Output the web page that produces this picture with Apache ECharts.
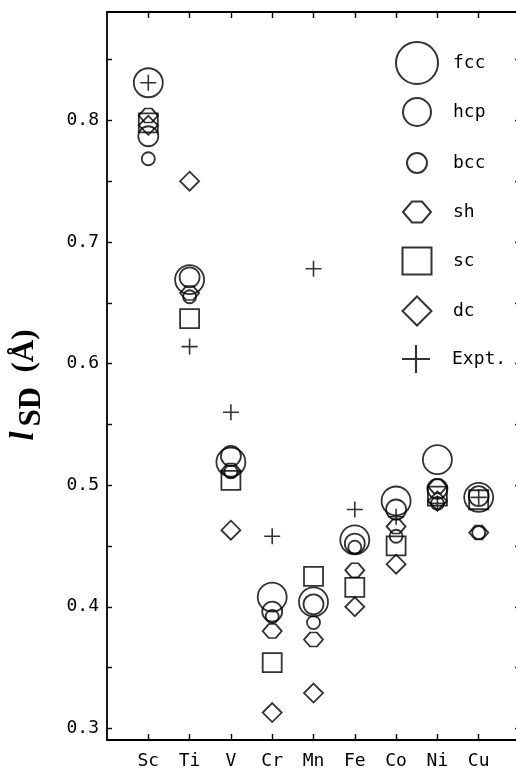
<!DOCTYPE html>
<html>
<head>
<meta charset="utf-8">
<script src="https://cdn.jsdelivr.net/npm/echarts@6/dist/echarts.min.js"></script>
<style>html,body{margin:0;padding:0;background:#fff}#c{width:516px;height:780px}</style>
</head>
<body>
<div id="c"></div>
<script>
// ---- data ----
const elements = ['Sc','Ti','V','Cr','Mn','Fe','Co','Ni','Cu'];
const fcc  = [0.831, 0.669, 0.519, 0.408, 0.404, 0.455, 0.487, 0.521, 0.490];
const hcp  = [0.787, 0.671, 0.524, 0.396, 0.402, 0.452, 0.480, 0.497, 0.491];
const bcc  = [0.7685,0.655, 0.511, 0.392, 0.387, 0.449, 0.458, 0.485, 0.461];
const sh   = [0.804, 0.658, 0.512, 0.380, 0.373, 0.430, 0.466, 0.499, 0.461];
const sc   = [0.798, 0.637, 0.504, 0.354, 0.425, 0.416, 0.450, 0.491, 0.488];
const dc   = [0.796, 0.750, 0.463, 0.313, 0.329, 0.400, 0.435, 0.487, null];
const expt = [0.831, 0.614, 0.560, 0.458, 0.678, 0.480, 0.474, 0.485, 0.490];
const yTickValues  = [0.30,0.35,0.40,0.45,0.50,0.55,0.60,0.65,0.70,0.75,0.80,0.85];
const yLabelValues = [0.3,0.4,0.5,0.6,0.7,0.8];

// ---- helpers ----
const xIdx = elements.map((e,i)=>i+1);
function pts(arr){ const r=[]; arr.forEach((v,i)=>{ if(v!=null) r.push([i+1,v]); }); return r; }
const HEX = 'path://M0,10.5L9,0L19,0L28,10.5L19,21L9,21Z';
const PLUS = 'path://M7.2,0H8.8V16H7.2Z M0,7.2H16V8.8H0Z';
const PLUS_LEG = 'path://M7.4,0H8.6V16H7.4Z M0,7.4H16V8.6H0Z';
const mono = 'DejaVu Sans Mono';
const hollow = {color:'rgba(0,0,0,0)', borderColor:'#000', borderWidth:1.8};

const defs = [
  {name:'fcc',   data:fcc,  sym:'circle',  size:29,     leg:[42,42], cy:62},
  {name:'hcp',   data:hcp,  sym:'circle',  size:20,     leg:[28,28], cy:111},
  {name:'bcc',   data:bcc,  sym:'circle',  size:13,     leg:[20,20], cy:162},
  {name:'sh',    data:sh,   sym:HEX,       size:[19,14],leg:[28,21], cy:211},
  {name:'sc',    data:sc,   sym:'rect',    size:19,     leg:[29,27], cy:260},
  {name:'dc',    data:dc,   sym:'diamond', size:19,     leg:[29,29], cy:310},
  {name:'Expt.', data:expt, sym:PLUS,      size:16,     leg:[28,28], cy:359}
];

const series = defs.map(d=>({
  name:d.name, type:'scatter', data:pts(d.data),
  symbol:d.sym, symbolSize:d.size,
  itemStyle: d.name==='Expt.' ? {color:'#000', borderWidth:0} : hollow,
  emphasis:{disabled:true}, z: d.name==='Expt.'?5:3
}));

const textH = 18;
const legends = defs.map(d=>{
  const w=d.leg[0], h=d.leg[1];
  const boxH = Math.max(h, textH);
  let item = {name:d.name};
  if (d.name==='Expt.') item.icon = PLUS_LEG;
  if (d.name==='sh') item.icon = HEX;
  return {
    data:[item],
    orient:'vertical', left: 416 - w/2, top: d.cy - boxH/2,
    itemWidth:w, itemHeight:h, padding:0, selectedMode:false,
    textStyle:{fontFamily:mono, fontSize:18, color:'#000', lineHeight:textH,
               padding:[0,0,0, 31 - w/2]}
  };
});

const axisLineStyle = {color:'#000', width:1.8};
const tickStyle = {color:'#000', width:1.4};
const chart = echarts.init(document.getElementById('c'), null, {renderer:'canvas'});
chart.setOption({
  animation:false,
  backgroundColor:'#fff',
  grid:{left:107, top:12, width:413, height:728, show:false, outerBoundsMode:'none', containLabel:false},
  legend: legends,
  xAxis:[
    {type:'value', position:'bottom', min:0, max:10,
     axisLine:{show:true, onZero:false, lineStyle:axisLineStyle},
     axisTick:{show:true, inside:true, length:6, customValues:xIdx, lineStyle:tickStyle},
     axisLabel:{show:true, customValues:xIdx, margin:12, fontFamily:mono, fontSize:18, color:'#000',
                formatter:v=>elements[Math.round(v)-1]||''},
     splitLine:{show:false}},
    {type:'value', position:'top', min:0, max:10,
     axisLine:{show:true, onZero:false, lineStyle:axisLineStyle},
     axisTick:{show:true, inside:true, length:6, customValues:xIdx, lineStyle:tickStyle},
     axisLabel:{show:false}, splitLine:{show:false}}
  ],
  yAxis:[
    {type:'value', position:'left', min:0.2904, max:0.8892,
     axisLine:{show:true, onZero:false, lineStyle:axisLineStyle},
     axisTick:{show:true, inside:true, length:5, customValues:yTickValues, lineStyle:tickStyle},
     axisLabel:{show:true, customValues:yLabelValues, margin:8, fontFamily:mono, fontSize:18, color:'#000',
                formatter:v=>v.toFixed(1)},
     splitLine:{show:false},
     name:'{l|l}{s|SD}{g| }{u|(Å)}', nameLocation:'middle', nameRotate:90, nameGap:60,
     nameTextStyle:{padding:[0,18,0,0], rich:{
        l:{fontFamily:'Liberation Serif', fontStyle:'italic', fontWeight:'bold', fontSize:33, color:'#000', padding:[0,5,0,0]},
        s:{fontFamily:'Liberation Serif', fontWeight:'bold', fontSize:31, color:'#000', padding:[14,0,0,0]},
        g:{fontSize:30, padding:[0,6,0,0]},
        u:{fontFamily:'Liberation Serif', fontWeight:'bold', fontSize:31, color:'#000'}
     }}},
    {type:'value', position:'right', min:0.2904, max:0.8892,
     axisLine:{show:true, onZero:false, lineStyle:axisLineStyle},
     axisTick:{show:true, inside:true, length:5, customValues:yTickValues, lineStyle:tickStyle},
     axisLabel:{show:false}, splitLine:{show:false}}
  ],
  series: series
});
</script>
</body>
</html>
